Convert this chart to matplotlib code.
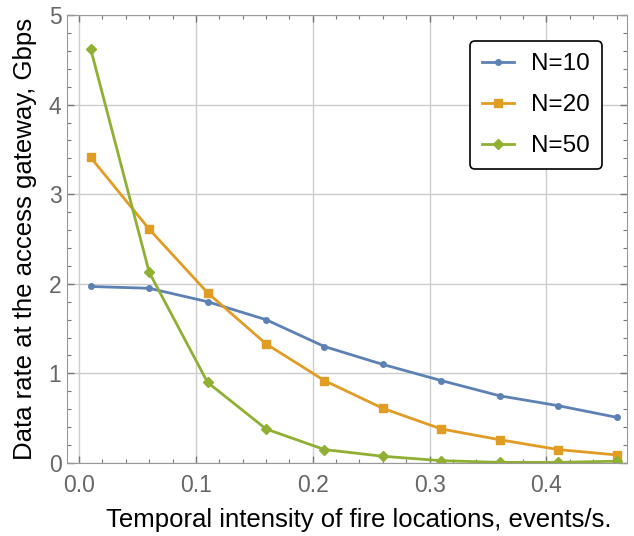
import matplotlib
matplotlib.use("Agg")
import matplotlib.pyplot as plt
from matplotlib.ticker import MultipleLocator

plt.rcParams["font.family"] = ["Liberation Sans", "DejaVu Sans"]

x = [0.01, 0.06, 0.11, 0.16, 0.21, 0.26, 0.31, 0.36, 0.41, 0.46]
n10 = [1.97, 1.95, 1.80, 1.60, 1.30, 1.10, 0.92, 0.75, 0.64, 0.51]
n20 = [3.41, 2.61, 1.90, 1.33, 0.92, 0.61, 0.38, 0.26, 0.15, 0.09]
n50 = [4.62, 2.13, 0.90, 0.38, 0.15, 0.075, 0.026, 0.007, 0.007, 0.02]

labels = ["N=10", "N=20", "N=50"]
colors = ["#5E81B5", "#E19C24", "#8FB032"]

fig = plt.figure(figsize=(6.34, 5.36), dpi=100)
ax = fig.add_axes([0.1057, 0.1362, 0.8833, 0.8358])

ax.plot(x, n10, color=colors[0], marker="o", markersize=4, lw=2, label=labels[0])
ax.plot(x, n20, color=colors[1], marker="s", markersize=5.5, lw=2, label=labels[1])
ax.plot(x, n50, color=colors[2], marker="D", markersize=5, lw=2, label=labels[2])

ax.set_xlim(-0.0103, 0.469)
ax.set_ylim(0, 5)
ax.xaxis.set_major_locator(MultipleLocator(0.1))
ax.xaxis.set_minor_locator(MultipleLocator(0.02))
ax.yaxis.set_major_locator(MultipleLocator(1))
ax.yaxis.set_minor_locator(MultipleLocator(0.2))
ax.xaxis.set_major_formatter(plt.FuncFormatter(lambda v, p: f"{v:.1f}"))
ax.grid(True, which="major", color="#cccccc", lw=1)
ax.set_axisbelow(True)

ax.tick_params(which="both", direction="in", top=True, right=True,
               colors="#777777", labelcolor="#666666", labelsize=16.5)
ax.tick_params(which="major", length=5, width=1)
ax.tick_params(which="minor", length=2.7, width=0.8)
ax.tick_params(axis="x", which="major", pad=8)
ax.tick_params(axis="y", which="major", pad=4)
for s in ax.spines.values():
    s.set_color("#999999")

ax.set_ylabel("Data rate at the access gateway, Gbps", fontsize=18.5)
ax.yaxis.set_label_coords(-0.053, 0.5)
fig.text(0.964, 0.0168, "Temporal intensity of fire locations, events/s.",
         fontsize=18.5, ha="right", va="baseline")

leg = ax.legend(loc="upper right", bbox_to_anchor=(0.955, 0.942), fontsize=17.5,
                frameon=True, fancybox=True, edgecolor="black", framealpha=1,
                handlelength=1.3, handletextpad=0.7, labelspacing=0.78,
                borderpad=0.5, borderaxespad=0)
leg.get_frame().set_linewidth(1.2)

fig.savefig("out.png", dpi=100, facecolor="white")
